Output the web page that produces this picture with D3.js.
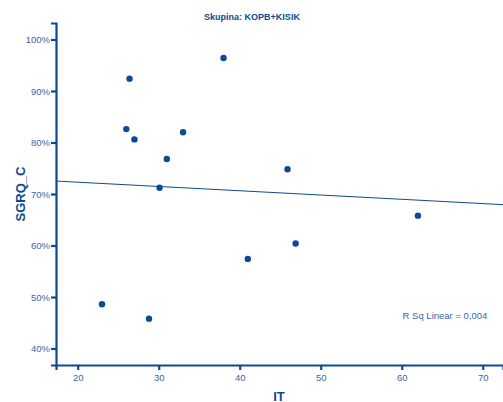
<!DOCTYPE html>
<html>
<head>
<meta charset="utf-8">
<script src="https://cdn.jsdelivr.net/npm/d3@7"></script>
<style>
  body { margin: 0; background: #fff; }
  svg { display: block; font-family: "Liberation Sans", Arial, sans-serif; }
</style>
</head>
<body>
<div id="chart"></div>
<script>
// Values
const itValues   = [23, 26.4, 26, 27, 31, 30.1, 33, 38, 28.8, 41, 46.9, 45.9, 62];
const sgrqValues = [48.6, 92.4, 82.6, 80.6, 76.8, 71.2, 82.0, 96.4, 45.8, 57.4, 60.4, 74.8, 65.8];
const xTicks = [20, 30, 40, 50, 60, 70];
const yTicks = [40, 50, 60, 70, 80, 90, 100];
// fit line (intercept, slope) as drawn
const fitIntercept = 73.95;
const fitSlope = -0.083;
const rSqLabel = "R Sq Linear = 0,004";
const titleText = "Skupina: KOPB+KISIK";

const width = 503, height = 402;
const dark = "#0c4a93";
const label = "#3866a8";

const svg = d3.select("#chart").append("svg")
    .attr("width", width)
    .attr("height", height);

const plotLeft = 56, plotRight = 503, plotTop = 23, plotBottom = 365;

const x = d3.scaleLinear().domain([17.32, 72.5]).range([plotLeft, plotRight]);
const y = d3.scaleLinear().domain([36.8, 103.2]).range([plotBottom, plotTop]);

// title
svg.append("text")
    .attr("x", 252).attr("y", 20)
    .attr("text-anchor", "middle")
    .style("font-size", "9px")
    .style("font-weight", "bold")
    .style("fill", dark)
    .text(titleText);

// fit line
svg.append("line")
    .attr("x1", x(x.domain()[0])).attr("y1", y(fitIntercept + fitSlope * x.domain()[0]))
    .attr("x2", x(x.domain()[1])).attr("y2", y(fitIntercept + fitSlope * x.domain()[1]))
    .style("stroke", dark)
    .style("stroke-width", 1);

// points
svg.selectAll("circle.pt")
    .data(itValues.map((v, i) => [v, sgrqValues[i]]))
    .enter().append("circle")
    .attr("class", "pt")
    .attr("cx", d => x(d[0]))
    .attr("cy", d => y(d[1]))
    .attr("r", 3.2)
    .style("fill", dark);

// axes
const xAxis = svg.append("g")
    .attr("transform", `translate(0,${plotBottom})`)
    .call(d3.axisBottom(x).tickValues(xTicks).tickSizeOuter(0).tickSize(5).tickPadding(4));

const yAxis = svg.append("g")
    .attr("transform", `translate(${plotLeft},0)`)
    .call(d3.axisLeft(y).tickValues(yTicks).tickSizeOuter(0).tickSize(5).tickPadding(1)
        .tickFormat(d => d + "%"));

[xAxis, yAxis].forEach(g => {
    g.select(".domain").style("stroke", dark).style("stroke-width", 2.2);
    g.selectAll(".tick line").style("stroke", dark).style("stroke-width", 2.2);
    g.selectAll(".tick text")
        .style("fill", label)
        .style("font-size", "9.5px")
        .style("font-family", "Liberation Sans, Arial, sans-serif");
});

// axis titles
svg.append("text")
    .attr("x", 279).attr("y", 400.5)
    .attr("text-anchor", "middle")
    .style("font-size", "13px")
    .style("font-weight", "bold")
    .style("fill", dark)
    .text("IT");

svg.append("text")
    .attr("transform", "translate(20,194) rotate(-90)")
    .attr("text-anchor", "middle")
    .attr("dy", "0.35em")
    .style("font-size", "13px")
    .style("font-weight", "bold")
    .style("fill", dark)
    .text("SGRQ_C");

// R sq annotation
svg.append("text")
    .attr("x", 445).attr("y", 318.5)
    .attr("text-anchor", "middle")
    .style("font-size", "9.5px")
    .style("fill", label)
    .text(rSqLabel);
</script>
</body>
</html>
